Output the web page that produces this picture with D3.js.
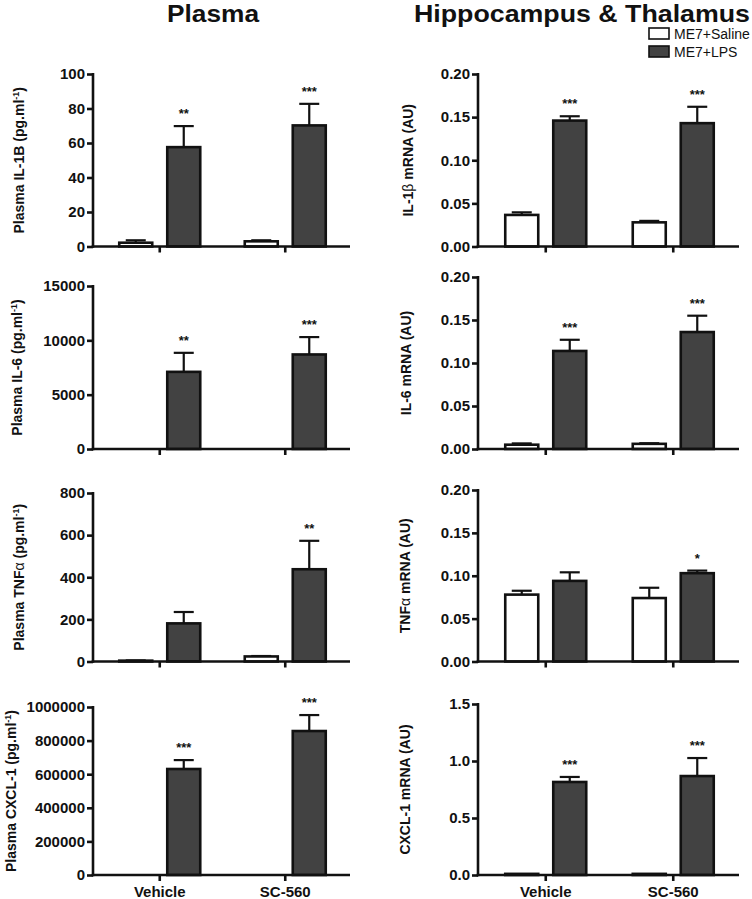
<!DOCTYPE html>
<html>
<head>
<meta charset="utf-8">
<script src="https://cdn.jsdelivr.net/npm/d3@7"></script>
<style>
  html, body { margin: 0; padding: 0; background: #fff; }
  svg { display: block; font-family: "Liberation Sans", Arial, Helvetica, sans-serif; }
</style>
</head>
<body>
<svg id="chart" width="752" height="899"></svg>
<script>
// ---------------- DATA ----------------
const groups = ["Vehicle", "SC-560"];
const series = ["ME7+Saline", "ME7+LPS"];

// Plasma IL-1B (pg/ml)
const plasmaIL1bSaline = [2.2, 3.0];
const plasmaIL1bSalineSem = [1.4, 0.6];
const plasmaIL1bLPS = [57.6, 70.2];
const plasmaIL1bLPSSem = [12.2, 12.5];
const plasmaIL1bStars = ["**", "***"];
const plasmaIL1bTicks = [0, 20, 40, 60, 80, 100];
const plasmaIL1bTickLabels = ["0", "20", "40", "60", "80", "100"];

// Hippocampus IL-1beta mRNA (AU)
const brainIL1bSaline = [0.0366, 0.028];
const brainIL1bSalineSem = [0.0030, 0.0017];
const brainIL1bLPS = [0.146, 0.143];
const brainIL1bLPSSem = [0.005, 0.019];
const brainIL1bStars = ["***", "***"];

// Plasma IL-6 (pg/ml)
const plasmaIL6Saline = [0, 0];
const plasmaIL6SalineSem = [0, 0];
const plasmaIL6LPS = [7100, 8700];
const plasmaIL6LPSSem = [1750, 1600];
const plasmaIL6Stars = ["**", "***"];
const plasmaIL6Ticks = [0, 5000, 10000, 15000];
const plasmaIL6TickLabels = ["0", "5000", "10000", "15000"];

// Hippocampus IL-6 mRNA (AU)
const brainIL6Saline = [0.005, 0.006];
const brainIL6SalineSem = [0.0015, 0.0007];
const brainIL6LPS = [0.114, 0.136];
const brainIL6LPSSem = [0.013, 0.019];
const brainIL6Stars = ["***", "***"];

// Plasma TNFalpha (pg/ml)
const plasmaTNFSaline = [4, 24];
const plasmaTNFSalineSem = [1, 2];
const plasmaTNFLPS = [181, 438];
const plasmaTNFLPSSem = [54, 135];
const plasmaTNFStars = ["", "**"];
const plasmaTNFTicks = [0, 200, 400, 600, 800];
const plasmaTNFTickLabels = ["0", "200", "400", "600", "800"];

// Hippocampus TNFalpha mRNA (AU)
const brainTNFSaline = [0.078, 0.074];
const brainTNFSalineSem = [0.0045, 0.012];
const brainTNFLPS = [0.094, 0.103];
const brainTNFLPSSem = [0.010, 0.003];
const brainTNFStars = ["", "*"];

// Plasma CXCL-1 (pg/ml)
const plasmaCXCL1Saline = [0, 0];
const plasmaCXCL1SalineSem = [0, 0];
const plasmaCXCL1LPS = [631000, 857000];
const plasmaCXCL1LPSSem = [53000, 95000];
const plasmaCXCL1Stars = ["***", "***"];
const plasmaCXCL1Ticks = [0, 200000, 400000, 600000, 800000, 1000000];
const plasmaCXCL1TickLabels = ["0", "200000", "400000", "600000", "800000", "1000000"];

// Hippocampus CXCL-1 mRNA (AU)
const brainCXCL1Saline = [0.01, 0.01];
const brainCXCL1SalineSem = [0, 0];
const brainCXCL1LPS = [0.816, 0.868];
const brainCXCL1LPSSem = [0.044, 0.158];
const brainCXCL1Stars = ["***", "***"];

// shared mRNA tick sets
const mrnaTicks = [0, 0.05, 0.10, 0.15, 0.20];
const mrnaTickLabels = ["0.00", "0.05", "0.10", "0.15", "0.20"];
const cxclTicks = [0, 0.5, 1.0, 1.5];
const cxclTickLabels = ["0.0", "0.5", "1.0", "1.5"];

const columnTitles = ["Plasma", "Hippocampus & Thalamus"];

// ---------------- PANELS ----------------
const panels = [
  { row: 0, col: 0, sal: plasmaIL1bSaline, salSem: plasmaIL1bSalineSem, lps: plasmaIL1bLPS, lpsSem: plasmaIL1bLPSSem, stars: plasmaIL1bStars, ticks: plasmaIL1bTicks, tickLabels: plasmaIL1bTickLabels,
    label: [{t: "Plasma IL-1B (pg.ml"}, {t: "-1", sup: true}, {t: ")"}] },
  { row: 0, col: 1, sal: brainIL1bSaline, salSem: brainIL1bSalineSem, lps: brainIL1bLPS, lpsSem: brainIL1bLPSSem, stars: brainIL1bStars, ticks: mrnaTicks, tickLabels: mrnaTickLabels,
    label: [{t: "IL-1"}, {t: "β", greek: true}, {t: " mRNA (AU)"}] },
  { row: 1, col: 0, sal: plasmaIL6Saline, salSem: plasmaIL6SalineSem, lps: plasmaIL6LPS, lpsSem: plasmaIL6LPSSem, stars: plasmaIL6Stars, ticks: plasmaIL6Ticks, tickLabels: plasmaIL6TickLabels,
    label: [{t: "Plasma IL-6 (pg.ml"}, {t: "-1", sup: true}, {t: ")"}] },
  { row: 1, col: 1, sal: brainIL6Saline, salSem: brainIL6SalineSem, lps: brainIL6LPS, lpsSem: brainIL6LPSSem, stars: brainIL6Stars, ticks: mrnaTicks, tickLabels: mrnaTickLabels,
    label: [{t: "IL-6 mRNA (AU)"}] },
  { row: 2, col: 0, sal: plasmaTNFSaline, salSem: plasmaTNFSalineSem, lps: plasmaTNFLPS, lpsSem: plasmaTNFLPSSem, stars: plasmaTNFStars, ticks: plasmaTNFTicks, tickLabels: plasmaTNFTickLabels,
    label: [{t: "Plasma TNF"}, {t: "α", greek: true}, {t: " (pg.ml"}, {t: "-1", sup: true}, {t: ")"}] },
  { row: 2, col: 1, sal: brainTNFSaline, salSem: brainTNFSalineSem, lps: brainTNFLPS, lpsSem: brainTNFLPSSem, stars: brainTNFStars, ticks: mrnaTicks, tickLabels: mrnaTickLabels,
    label: [{t: "TNF"}, {t: "α", greek: true}, {t: " mRNA (AU)"}] },
  { row: 3, col: 0, sal: plasmaCXCL1Saline, salSem: plasmaCXCL1SalineSem, lps: plasmaCXCL1LPS, lpsSem: plasmaCXCL1LPSSem, stars: plasmaCXCL1Stars, ticks: plasmaCXCL1Ticks, tickLabels: plasmaCXCL1TickLabels,
    label: [{t: "Plasma CXCL-1 (pg.ml"}, {t: "-1", sup: true}, {t: ")"}] },
  { row: 3, col: 1, sal: brainCXCL1Saline, salSem: brainCXCL1SalineSem, lps: brainCXCL1LPS, lpsSem: brainCXCL1LPSSem, stars: brainCXCL1Stars, ticks: cxclTicks, tickLabels: cxclTickLabels,
    label: [{t: "CXCL-1 mRNA (AU)"}] }
];

// ---------------- LAYOUT ----------------
const colAxisX = [93, 478];
const colEndX = [350, 739];
const rowTop = [[74, 74], [286, 277], [493, 490], [707, 704]];
const rowZero = [246.5, 449, 661.5, 875];
const labelCX = [[19, 408], [17, 406], [19, 405], [11, 405]];
const fills = ["#ffffff", "#424242"];
const ink = "#111";
const lw = 2.6;

const svg = d3.select("#chart");

// column titles
const titleX = [213, 582];
const titleLen = [92, 336];
columnTitles.forEach((t, i) => {
  svg.append("text")
    .attr("x", titleX[i]).attr("y", 22)
    .attr("text-anchor", "middle")
    .attr("font-size", 24).attr("font-weight", "bold")
    .attr("textLength", titleLen[i]).attr("lengthAdjust", "spacingAndGlyphs")
    .attr("fill", ink)
    .text(t);
});

// legend
const legend = svg.append("g").attr("transform", "translate(649,28)");
series.forEach((s, i) => {
  const g = legend.append("g").attr("transform", `translate(0,${i * 18})`);
  g.append("rect").attr("x", 0).attr("y", 0).attr("width", 20).attr("height", 11)
    .attr("fill", fills[i]).attr("stroke", ink).attr("stroke-width", 1.6);
  g.append("text").attr("x", 25).attr("y", 11)
    .attr("font-size", 14).attr("fill", ink).text(s);
});

panels.forEach(p => {
  const ax = colAxisX[p.col], ex = colEndX[p.col];
  const top = rowTop[p.row][p.col], zero = rowZero[p.row];
  const ymax = p.ticks[p.ticks.length - 1];
  const y = d3.scaleLinear().domain([0, ymax]).range([zero, top]);
  const x0 = d3.scaleBand().domain(groups).range([ax + 4, ex - 2]);
  const x1 = d3.scaleBand().domain(series).range([0, 81]).paddingInner(0.3125);
  const g = svg.append("g");

  const bars = [];
  groups.forEach((grp, gi) => {
    const cx = x0(grp) + x0.bandwidth() / 2 - 40.5;
    bars.push({ x: cx + x1(series[0]), v: p.sal[gi], e: p.salSem[gi], fill: fills[0], star: "" });
    bars.push({ x: cx + x1(series[1]), v: p.lps[gi], e: p.lpsSem[gi], fill: fills[1], star: p.stars[gi] });
  });
  const bw = x1.bandwidth();

  // error bars
  bars.forEach(b => {
    if (b.e <= 0) return;
    const xc = b.x + bw / 2;
    g.append("line").attr("x1", xc).attr("x2", xc).attr("y1", y(b.v)).attr("y2", y(b.v + b.e))
      .attr("stroke", ink).attr("stroke-width", 2.2);
    g.append("line").attr("x1", xc - 10).attr("x2", xc + 10).attr("y1", y(b.v + b.e)).attr("y2", y(b.v + b.e))
      .attr("stroke", ink).attr("stroke-width", 2.2);
  });

  // bars
  bars.forEach(b => {
    if (b.v <= 0) return;
    g.append("rect").attr("x", b.x).attr("width", bw)
      .attr("y", y(b.v)).attr("height", Math.max(0, zero - y(b.v)))
      .attr("fill", b.fill).attr("stroke", ink).attr("stroke-width", lw);
  });

  // stars
  bars.forEach(b => {
    if (!b.star) return;
    g.append("text").attr("x", b.x + bw / 2).attr("y", y(b.v + b.e) - 8)
      .attr("text-anchor", "middle").attr("font-size", 13).attr("font-weight", "bold")
      .attr("fill", ink).text(b.star);
  });

  // y axis
  const yAxis = d3.axisLeft(y).tickValues(p.ticks)
    .tickFormat((d, i) => p.tickLabels[i]).tickSizeOuter(0).tickSize(6).tickPadding(2);
  const ya = g.append("g").attr("transform", `translate(${ax},0)`).call(yAxis);
  ya.select(".domain").remove();
  ya.selectAll("line").attr("stroke", ink).attr("stroke-width", lw);
  ya.selectAll("text").attr("font-size", 15).attr("font-weight", "bold").attr("fill", ink)
    .style("font-family", "'Liberation Sans', Arial, sans-serif");
  g.append("line").attr("x1", ax).attr("x2", ax).attr("y1", top - 1).attr("y2", zero + lw / 2)
    .attr("stroke", ink).attr("stroke-width", lw);

  // x axis
  const xAxis = d3.axisBottom(x0).tickSize(6).tickSizeOuter(0).tickPadding(5)
    .tickFormat(d => p.row === 3 ? d : "");
  const xa = g.append("g").attr("transform", `translate(0,${zero})`).call(xAxis);
  xa.select(".domain").remove();
  xa.selectAll("line").attr("stroke", ink).attr("stroke-width", lw);
  xa.selectAll("text").attr("font-size", 15).attr("font-weight", "bold").attr("fill", ink)
    .style("font-family", "'Liberation Sans', Arial, sans-serif");
  g.append("line").attr("x1", ax - lw / 2).attr("x2", ex).attr("y1", zero).attr("y2", zero)
    .attr("stroke", ink).attr("stroke-width", lw);

  // y label
  const lab = g.append("text")
    .attr("transform", `translate(${labelCX[p.row][p.col]},${(top + zero) / 2}) rotate(-90)`)
    .attr("text-anchor", "middle").attr("dy", "0.36em")
    .attr("font-size", 14).attr("font-weight", "bold").attr("fill", ink);
  let shifted = false;
  p.label.forEach(part => {
    const ts = lab.append("tspan").text(part.t);
    if (part.sup) { ts.attr("font-size", 9).attr("dy", -5); shifted = true; }
    else if (shifted) { ts.attr("dy", 5); shifted = false; }
    if (part.greek) ts.attr("font-weight", "normal");
  });
});
</script>
</body>
</html>
